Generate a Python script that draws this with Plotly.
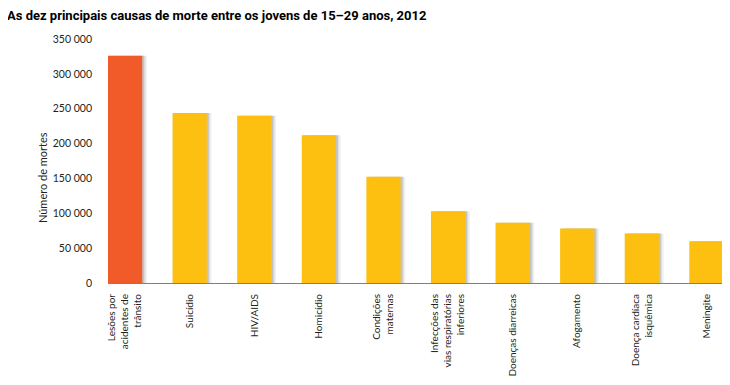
import plotly.graph_objects as go

title_text = "As dez principais causas de morte entre os jovens de 15–29 anos, 2012"
y_title = "Número de mortes"
categories = [
    "Lesões por<br>acidentes de<br>trânsito",
    "Suicídio",
    "HIV/AIDS",
    "Homicídio",
    "Condições<br>maternas",
    "Infecções das<br>vias respiratórias<br>inferiores",
    "Doenças diarreicas",
    "Afogamento",
    "Doença cardíaca<br>isquêmica",
    "Meningite",
]
deaths = [326000, 244000, 240000, 212000, 152500, 103000, 86500, 78000, 71000, 60000]
bar_colors = ["#F15A29"] + ["#FDC010"] * 9
y_ticks = [0, 50000, 100000, 150000, 200000, 250000, 300000, 350000]

x_idx = list(range(len(categories)))
bw = 0.53

fig = go.Figure()
# soft drop shadow
for shift, alpha in [(0.075, 0.05), (0.05, 0.08), (0.03, 0.12)]:
    fig.add_trace(go.Bar(
        x=x_idx, y=deaths, width=bw, offset=-bw / 2 + shift,
        marker=dict(color=f"rgba(0,0,0,{alpha})", line_width=0),
        hoverinfo="skip", showlegend=False,
    ))
fig.add_trace(go.Bar(
    x=x_idx, y=deaths, width=bw, offset=-bw / 2,
    marker=dict(color=bar_colors, line_width=0),
    showlegend=False,
))

# page body has an 8px margin, so the figure is sized to fit inside the window
fig.update_layout(
    width=722, height=377,
    margin=dict(l=100, r=1, t=31, b=102, autoexpand=False),
    paper_bgcolor="white", plot_bgcolor="white",
    barmode="overlay",
    separators=", ",
    font=dict(family="Lato", size=11, color="#231F20"),
    xaxis=dict(
        tickmode="array", tickvals=x_idx, ticktext=categories,
        tickangle=-90, range=[-bw / 2, 9.35], automargin=False,
        showline=True, linecolor="#7f7f7f", linewidth=1,
        showgrid=False, zeroline=False, ticks="",
        ticklabelstandoff=6,
        tickfont=dict(family="Lato", size=10, color="#231F20"),
    ),
    yaxis=dict(
        range=[0, 350000], tickmode="array", tickvals=y_ticks,
        tickformat=",d", automargin=False,
        showgrid=False, zeroline=False, showline=False, ticks="",
        ticklabelstandoff=15,
        tickfont=dict(family="Lato", size=10.5, color="#231F20"),
    ),
    annotations=[
        dict(
            text=f"<b>{title_text}</b>",
            xref="paper", yref="paper",
            x=-103 / 621, xanchor="left",
            y=1.096, yanchor="middle",
            showarrow=False,
            font=dict(family="Roboto", size=13, color="#000000"),
        ),
        dict(
            text=y_title, textangle=-90,
            xref="paper", yref="paper",
            x=-66 / 621, xanchor="center",
            y=0.43, yanchor="middle",
            showarrow=False,
            font=dict(family="Lato", size=11, color="#231F20"),
        ),
    ],
)

fig.write_html("out.html")
